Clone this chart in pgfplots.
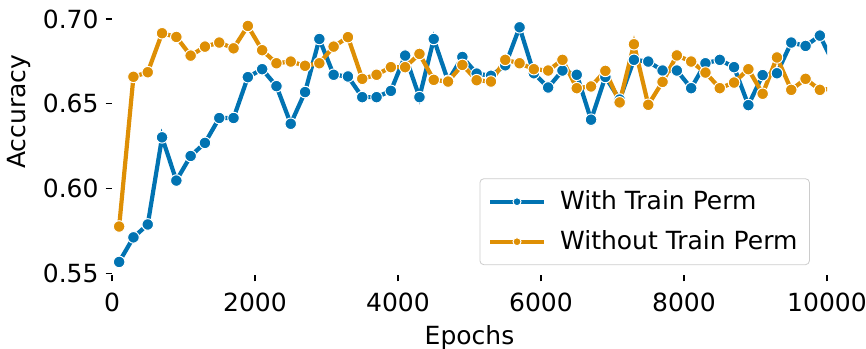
\documentclass[border=0pt]{standalone}
\usepackage{fontspec}
\setmainfont{DejaVu Sans}
\usepackage{pgfplots}
\pgfplotsset{compat=1.18}
\definecolor{cbblue}{HTML}{0173B2}
\definecolor{cborange}{HTML}{DE8F05}
\pgfplotstableread{
x blue orange
100 0.5567 0.5776
300 0.5712 0.6659
500 0.5788 0.6686
700 0.6302 0.6916
900 0.6047 0.6894
1100 0.6192 0.6784
1300 0.6269 0.6837
1500 0.6416 0.6861
1700 0.6416 0.6827
1900 0.6657 0.6959
2100 0.6704 0.6816
2300 0.6604 0.6739
2500 0.6382 0.6749
2700 0.6569 0.6724
2900 0.6882 0.6739
3100 0.6671 0.6837
3300 0.6661 0.6893
3500 0.6539 0.6647
3700 0.6539 0.6671
3900 0.6576 0.6716
4100 0.6784 0.6716
4300 0.6539 0.6794
4500 0.6882 0.6641
4700 0.6635 0.6631
4900 0.6776 0.6729
5100 0.6678 0.6639
5300 0.6665 0.6631
5500 0.6727 0.6759
5700 0.6951 0.6739
5900 0.6680 0.6704
6100 0.6596 0.6696
6300 0.6696 0.6759
6500 0.6671 0.6592
6700 0.6406 0.6602
6900 0.6658 0.6694
7100 0.6525 0.6508
7300 0.6759 0.6851
7500 0.6749 0.6494
7700 0.6696 0.6629
7900 0.6696 0.6785
8100 0.6592 0.6749
8300 0.6739 0.6684
8500 0.6759 0.6592
8700 0.6716 0.6625
8900 0.6492 0.6704
9100 0.6669 0.6559
9300 0.6680 0.6773
9500 0.6861 0.6582
9700 0.6841 0.6647
9900 0.6902 0.6582
10100 0.6730 0.6590
}\datatable
\begin{document}
\begin{tikzpicture}
\begin{axis}[
  scale only axis, width=357.5pt, height=137.5pt,
  xmin=0, xmax=10000, ymin=0.549, ymax=0.7112,
  axis x line*=bottom, axis y line*=left,
  axis line style={draw=none},
  tick align=outside, major tick length=3.2pt,
  tick style={black, line width=0.6pt},
  xtick={0,2000,4000,6000,8000,10000},
  ytick={0.55,0.60,0.65,0.70},
  /pgf/number format/assume math mode=true,
  tick label style={font=\fontsize{12.5}{14}\selectfont},
  xticklabel style={yshift=-2pt, /pgf/number format/.cd, fixed, set thousands separator={}},
  yticklabel style={/pgf/number format/.cd, fixed, fixed zerofill, precision=2},
  scaled ticks=false,
  xlabel={Epochs}, ylabel={Accuracy},
  label style={font=\fontsize{12.5}{14}\selectfont},
  xlabel style={at={(axis description cs:0.5,-0.251)}, anchor=base},
  ylabel style={at={(axis description cs:-0.130,0.593)}, anchor=center},
  legend style={at={(0.976,0.036)}, anchor=south east, draw=black!20, rounded corners=2pt,
    fill=white, font=\fontsize{12.5}{14}\selectfont, row sep=5pt, inner xsep=4pt, inner ysep=4pt},
  legend cell align=left,
  legend image code/.code={\draw[#1, mark size=2pt, mark repeat=2, mark phase=2] plot coordinates {(0pt,0pt) (13.5pt,0pt) (27pt,0pt)}; \path (32pt,0pt);},
]
\addplot[cbblue, line width=2.1pt, mark=*, mark size=2.9pt, mark options={draw=white, line width=0.5pt, fill=cbblue}] table[x=x, y=blue] {\datatable};
\addlegendentry{With Train Perm}
\addplot[cborange, line width=2.1pt, mark=*, mark size=2.9pt, mark options={draw=white, line width=0.5pt, fill=cborange}] table[x=x, y=orange] {\datatable};
\addlegendentry{Without Train Perm}
\coordinate (SW) at (rel axis cs:0,0);
\coordinate (NE) at (rel axis cs:1,1);
\end{axis}
\pgfresetboundingbox
\path ([shift={(-56pt,-36.5pt)}]SW) rectangle ([shift={(19.5pt,0pt)}]NE);
\end{tikzpicture}
\end{document}
